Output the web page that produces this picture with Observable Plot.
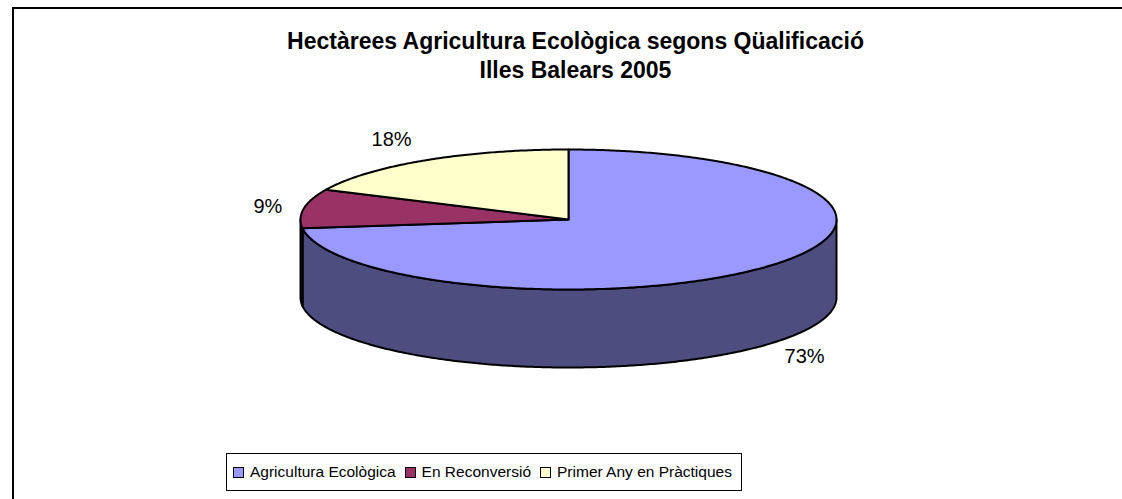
<!DOCTYPE html>
<html>
<head>
<meta charset="utf-8">
<script src="https://cdn.jsdelivr.net/npm/d3@7"></script>
<script src="https://cdn.jsdelivr.net/npm/@observablehq/plot@0.6"></script>
<style>
  html, body { margin: 0; padding: 0; background: #fff; }
  #wrap { position: relative; width: 1122px; height: 499px; overflow: hidden; font-family: "Liberation Sans", Arial, sans-serif; color: #000; }
  #frame { position: absolute; left: 12px; top: 7px; width: 1300px; height: 700px; border-left: 2px solid #000; border-top: 2px solid #000; box-sizing: border-box; }
  #title { position: absolute; left: 0; top: 0; width: 1151px; text-align: center; font-weight: bold; font-size: 23px; line-height: 29px; padding-top: 27px; }
  #chart { position: absolute; left: 0; top: 100px; }
  #legend { position: absolute; left: 226px; top: 453px; height: 38px; border: 1px solid #000; box-sizing: border-box; display: flex; align-items: center; padding: 0 9px 0 6px; font-size: 15.5px; white-space: nowrap; background: #fff; }
  #legend .sw { width: 9px; height: 9px; border: 1px solid #000; margin-right: 6px; margin-left: 9px; }
  #legend .sw:first-child { margin-left: 0; }
</style>
</head>
<body>
<div id="wrap">
  <div id="frame"></div>
  <div id="title">Hectàrees Agricultura Ecològica segons Qüalificació<br>Illes Balears 2005</div>
  <div id="chart"></div>
  <div id="legend"></div>
</div>
<script>
// ---- data ----
const categories = ["Agricultura Ecològica", "En Reconversió", "Primer Any en Pràctiques"];
const values = [73, 9, 18];
const labels = ["73%", "9%", "18%"];
const topColors = ["#9999FF", "#993366", "#FFFFCC"];
const sideColors = ["#4D4D80", "#4D1A33", "#808066"];

// ---- geometry (layout) ----
const W = 1122, H = 340;
const CX = 568, CY = 119, RX = 268, RY = 70, DEPTH = 78;
const h = DEPTH / RY;
const total = d3.sum(values);

const slices = [];
let acc = 0;
values.forEach((v, i) => {
  const a0 = acc / total * 2 * Math.PI;
  acc += v;
  const a1 = acc / total * 2 * Math.PI;
  slices.push({i, a0, a1, name: categories[i]});
});

function arcPts(a0, a1, dv) {
  const n = Math.max(2, Math.ceil((a1 - a0) / 0.01));
  const pts = [];
  for (let k = 0; k <= n; k++) {
    const t = a0 + (a1 - a0) * k / n;
    pts.push({u: Math.sin(t), v: Math.cos(t) - dv});
  }
  return pts;
}

const marks = [];
// side walls (front half only)
slices.forEach(s => {
  const lo = Math.max(s.a0, Math.PI / 2), hi = Math.min(s.a1, 3 * Math.PI / 2);
  if (lo < hi) {
    const pts = arcPts(lo, hi, 0).concat(arcPts(lo, hi, h).reverse());
    marks.push(Plot.line(pts, {x: "u", y: "v", fill: sideColors[s.i], stroke: "#000", strokeWidth: 2, strokeLinejoin: "round", curve: "linear-closed"}));
  }
});
// top faces
slices.forEach(s => {
  const pts = [{u: 0, v: 0}].concat(arcPts(s.a0, s.a1, 0));
  marks.push(Plot.line(pts, {x: "u", y: "v", fill: topColors[s.i], stroke: "#000", strokeWidth: 2, strokeLinejoin: "round", curve: "linear-closed"}));
});
// percentage labels
const labelData = slices.map(s => {
  const m = (s.a0 + s.a1) / 2;
  const px = Math.sin(m) * RX, py = -Math.cos(m) * RY;
  const len = Math.hypot(px, py);
  const nx = px / len, ny = py / len;
  const front = Math.cos(m) < 0;
  return {
    u: Math.sin(m) + 36 * nx / RX,
    v: Math.cos(m) - (front ? h : 0) - 55 * ny / RY,
    label: labels[s.i]
  };
});
marks.push(Plot.text(labelData, {x: "u", y: "v", text: "label", fontSize: 20, fill: "#000", fontFamily: "Liberation Sans, Arial, sans-serif", textAnchor: "middle"}));

const chart = Plot.plot({
  width: W, height: H,
  margin: 0,
  x: {domain: [-CX / RX, (W - CX) / RX], range: [0, W], axis: null},
  y: {domain: [(CY - H) / RY, CY / RY], range: [H, 0], axis: null},
  style: {background: "transparent", overflow: "visible"},
  marks
});
document.getElementById("chart").appendChild(chart);

// legend
const leg = document.getElementById("legend");
categories.forEach((c, i) => {
  const sw = document.createElement("span");
  sw.className = "sw";
  sw.style.background = topColors[i];
  leg.appendChild(sw);
  const t = document.createElement("span");
  t.textContent = c;
  leg.appendChild(t);
});
</script>
</body>
</html>
